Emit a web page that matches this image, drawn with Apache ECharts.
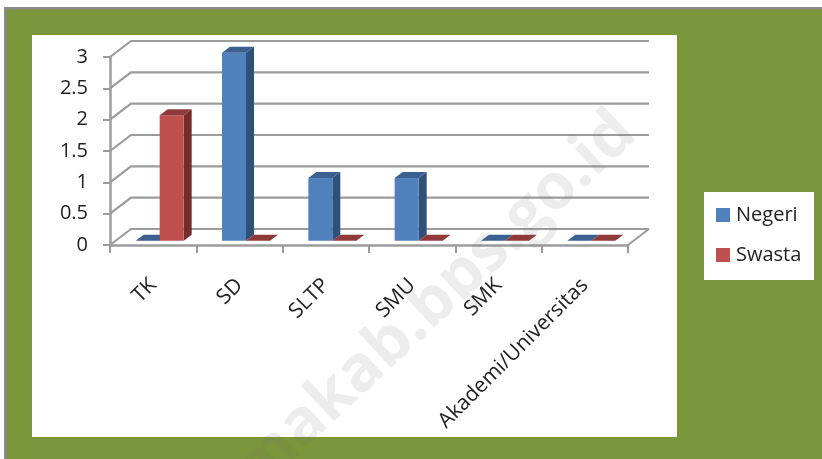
<!DOCTYPE html>
<html><head><meta charset="utf-8">
<style>html,body{margin:0;padding:0;background:#fff}#c{width:822px;height:459px}</style>
<script src="https://cdn.jsdelivr.net/npm/echarts@6/dist/echarts.min.js"></script>
</head><body><div id="c"></div>
<script>
const categories = ['TK','SD','SLTP','SMU','SMK','Akademi/Universitas'];
const negeri = [0,3,1,1,0,0];
const swasta = [2,0,0,0,0,0];
const valueTicks = [0,0.5,1,1.5,2,2.5,3];

const FONT = '"Open Sans", sans-serif';
const WALL = {dx:21, dy:16};
const BAR = {dx:8, dy:6, offX:6.5, offY:4.3, ratio:0.278};
const GRID_COLOR = '#9c9c9c';

const wallItem = (params, api) => {
  const r = params.coordSys;
  const y = api.coord([0, api.value(0)])[1];
  const x0 = r.x, x1 = r.x + r.width;
  const children = [{type:'polyline', shape:{points:[[x0,y],[x0+WALL.dx,y-WALL.dy],[x1+WALL.dx,y-WALL.dy]]},
    style:{stroke:GRID_COLOR, lineWidth:2.2, fill:null}}];
  if (api.value(0) === 0) children.push({type:'line',
    shape:{x1:x1,y1:y,x2:x1+WALL.dx,y2:y-WALL.dy}, style:{stroke:GRID_COLOR, lineWidth:2.2}});
  return {type:'group', children};
};

const barItem = (front, side, top, slot) => (params, api) => {
  const c = api.coord([api.value(0), api.value(1)]);
  const base = api.coord([api.value(0), 0]);
  const w = api.size([1,0])[0] * BAR.ratio;
  const xl = c[0] + BAR.offX + (slot === 0 ? -w : 0), xr = xl + w;
  const yt = c[1] - BAR.offY, yb = base[1] - BAR.offY;
  const d = BAR;
  const kids = [];
  if (yb - yt > 0.5) {
    kids.push({type:'polygon', shape:{points:[[xr,yt],[xr+d.dx,yt-d.dy],[xr+d.dx,yb-d.dy],[xr,yb]]}, style:{fill:side}});
    kids.push({type:'rect', shape:{x:xl,y:yt,width:w,height:yb-yt}, style:{fill:front}});
  }
  kids.push({type:'polygon', shape:{points:[[xl,yt],[xr,yt],[xr+d.dx,yt-d.dy],[xl+d.dx,yt-d.dy]]}, style:{fill:top}});
  return {type:'group', children:kids};
};

const chart = echarts.init(document.getElementById('c'));
chart.setOption({
  animation:false,
  backgroundColor:'#ffffff',
  textStyle:{fontFamily:FONT},
  graphic:[
    {type:'rect', z:-10, shape:{x:4,y:7,width:818,height:452}, style:{fill:'#7A963A'}},
    {type:'rect', z:-10, shape:{x:4,y:7,width:818,height:2.5}, style:{fill:'#8a8a8a'}},
    {type:'rect', z:-10, shape:{x:4,y:7,width:2.5,height:452}, style:{fill:'#8a8a8a'}},
    {type:'rect', z:-9, shape:{x:32,y:35,width:645,height:402}, style:{fill:'#ffffff'}},
    {type:'rect', z:-9, shape:{x:704,y:192,width:110,height:88}, style:{fill:'#ffffff'}},
    {type:'text', z:50, x:435, y:302, rotation:Math.PI*43/180, style:{text:'makab.bps.go.id', fill:'rgba(110,110,110,0.12)',
      font:'bold 64px "Open Sans", sans-serif', align:'center', verticalAlign:'middle'}}
  ],
  legend:{left:711, top:200, orient:'vertical', icon:'rect', itemWidth:14, itemHeight:14, itemGap:20,
    data:['Negeri','Swasta'], textStyle:{fontSize:20, color:'#222', fontFamily:FONT, padding:[0,0,0,1]}},
  grid:{left:110, right:194, top:57, height:188},
  xAxis:{type:'category', data:categories, boundaryGap:true,
    axisLine:{lineStyle:{color:GRID_COLOR, width:2.5}},
    axisTick:{show:true, length:8, alignWithLabel:false, lineStyle:{color:GRID_COLOR, width:2}},
    axisLabel:{rotate:45, fontSize:21, color:'#222', margin:37, interval:0}},
  yAxis:{type:'value', min:0, max:3, interval:0.5,
    axisLine:{show:true, lineStyle:{color:GRID_COLOR, width:2.5}},
    axisTick:{show:true, length:7, lineStyle:{color:GRID_COLOR, width:2}},
    splitLine:{show:false},
    axisLabel:{fontSize:20, color:'#222', margin:22, padding:[8,0,0,0], formatter:v=>String(v)}},
  series:[
    {type:'custom', name:'wall', silent:true, clip:false, renderItem:wallItem, encode:{y:0},
      data:valueTicks.map(v=>[v]), z:1},
    {type:'custom', name:'Negeri', clip:false, itemStyle:{color:'#4F81BD'}, z:2,
      renderItem:barItem('#4F81BD','#2F5078','#3A6190',0), encode:{x:0,y:1},
      data:negeri.map((v,i)=>[i,v])},
    {type:'custom', name:'Swasta', clip:false, itemStyle:{color:'#C0504D'}, z:3,
      renderItem:barItem('#C0504D','#772C2A','#8F3A38',1), encode:{x:0,y:1},
      data:swasta.map((v,i)=>[i,v])}
  ]
});
</script></body></html>
